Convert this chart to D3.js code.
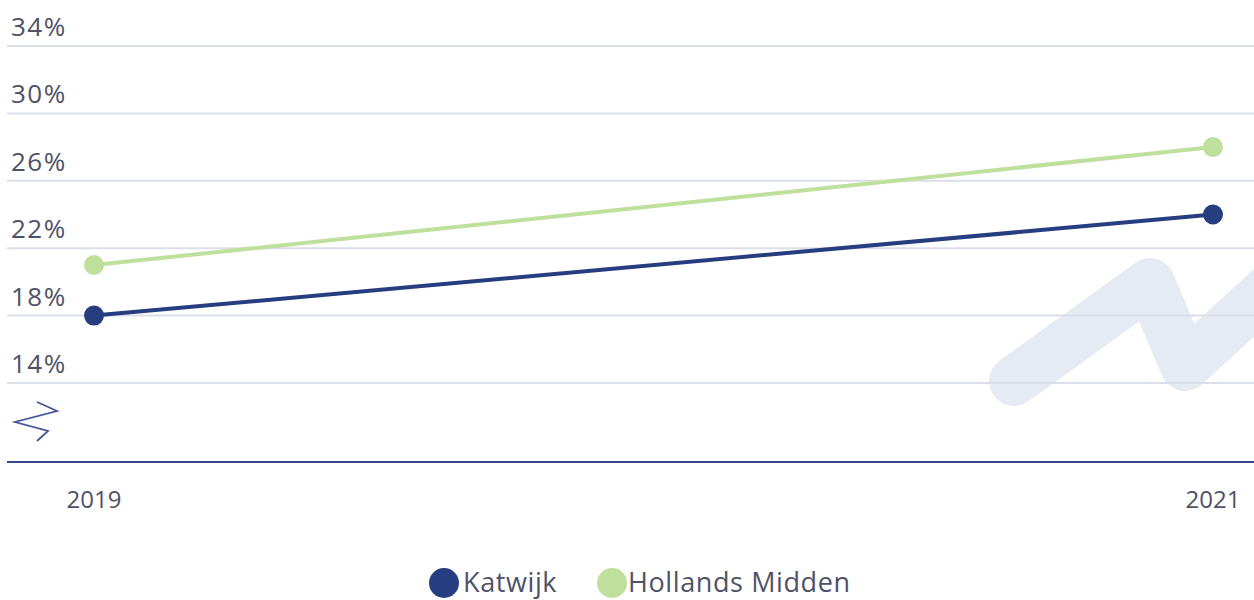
<!DOCTYPE html>
<html>
<head>
<meta charset="utf-8">
<script src="https://cdn.jsdelivr.net/npm/d3@7"></script>
<style>
  html, body { margin: 0; padding: 0; background: #fff; }
  svg { display: block; font-family: "Open Sans", sans-serif; }
</style>
</head>
<body>
<svg id="chart" width="1254" height="600"></svg>
<script>
const years = ["2019", "2021"];
const katwijk = [18, 24];
const hollandsMidden = [21, 28];
const yTicks = [14, 18, 22, 26, 30, 34];

const series = [
  { name: "Katwijk", values: katwijk, color: "#263d80" },
  { name: "Hollands Midden", values: hollandsMidden, color: "#bfe09c" }
];

const width = 1254, height = 600;
const svg = d3.select("#chart");

const x = d3.scalePoint().domain(years).range([94, 1213]);
const y = d3.scaleLinear().domain([14, 34]).range([383, 46]);

// watermark shape behind everything
svg.append("path")
  .attr("d", d3.line()([[1014, 381], [1150, 283], [1185, 366], [1290, 270]]))
  .attr("fill", "none")
  .attr("stroke", "#e6eaf2")
  .attr("stroke-width", 50)
  .attr("stroke-linecap", "round")
  .attr("stroke-linejoin", "round");

// grid lines + labels
const grid = svg.append("g");
grid.selectAll("line")
  .data(yTicks)
  .join("line")
  .attr("x1", 7).attr("x2", width)
  .attr("y1", d => y(d)).attr("y2", d => y(d))
  .attr("stroke", "#dcdfea")
  .attr("stroke-width", 2);

grid.selectAll("text")
  .data(yTicks)
  .join("text")
  .attr("x", 11)
  .attr("y", d => y(d) - 10)
  .attr("fill", "#4f5266")
  .style("font-size", "26px")
  .style("letter-spacing", "1.5px")
  .text(d => d + "%");

// axis break symbol
svg.append("path")
  .attr("d", d3.line()([[37, 402], [57, 411], [15, 422], [48, 431], [37, 441]]))
  .attr("fill", "none")
  .attr("stroke", "#44579a")
  .attr("stroke-width", 1.8);

// x axis line
svg.append("line")
  .attr("x1", 7).attr("x2", width)
  .attr("y1", 462).attr("y2", 462)
  .attr("stroke", "#34478a")
  .attr("stroke-width", 2);

svg.append("g")
  .selectAll("text")
  .data(years)
  .join("text")
  .attr("x", d => x(d))
  .attr("y", 508)
  .attr("text-anchor", "middle")
  .attr("fill", "#4f5266")
  .style("font-size", "24px")
  .text(d => d);

// lines and points
const line = d3.line()
  .x((d, i) => x(years[i]))
  .y(d => y(d));

series.forEach(s => {
  const g = svg.append("g");
  g.append("path")
    .attr("d", line(s.values))
    .attr("fill", "none")
    .attr("stroke", s.color)
    .attr("stroke-width", 4);
  g.selectAll("circle")
    .data(s.values)
    .join("circle")
    .attr("cx", (d, i) => x(years[i]))
    .attr("cy", d => y(d))
    .attr("r", 10)
    .attr("fill", s.color);
});

// legend
const legend = svg.append("g").attr("transform", "translate(0,583)");
const items = [
  { name: "Katwijk", color: series[0].color, cx: 444, tx: 463 },
  { name: "Hollands Midden", color: series[1].color, cx: 612, tx: 628 }
];
items.forEach(it => {
  legend.append("circle")
    .attr("cx", it.cx).attr("cy", 0).attr("r", 15)
    .attr("fill", it.color);
  legend.append("text")
    .attr("x", it.tx).attr("y", 9)
    .attr("fill", "#4f5266")
    .style("font-size", "27px")
    .style("letter-spacing", "0.6px")
    .text(it.name);
});
</script>
</body>
</html>
